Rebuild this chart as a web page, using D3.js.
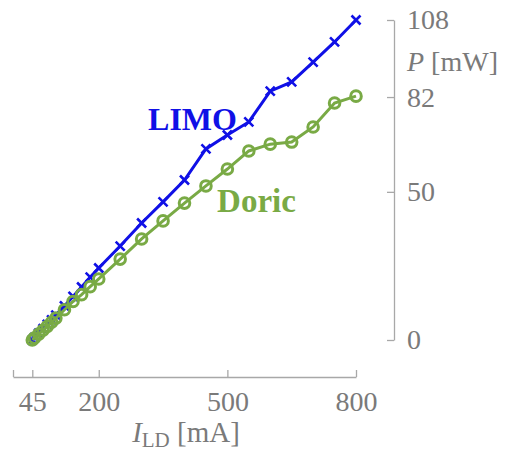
<!DOCTYPE html>
<html>
<head>
<meta charset="utf-8">
<script src="https://cdn.jsdelivr.net/npm/d3@7"></script>
<style>
  body { margin: 0; background: #fff; }
</style>
</head>
<body>
<div id="chart"></div>
<script>
// 电流 (mA)
const currents = [45, 50, 60, 70, 80, 90, 100, 120, 140, 160, 180, 200, 250, 300, 350, 400, 450, 500, 550, 600, 650, 700, 750, 800];
// 光功率 (mW)
const limo  = [0, 0.8, 2.3, 3.8, 5.3, 6.8, 8.4, 11.5, 14.7, 17.9, 21.2, 24.3, 31.7, 39.5, 46.6, 54.0, 64.5, 69.2, 73.6, 84.0, 87.1, 93.8, 100.6, 108];
const doric = [0, 0.7, 2.0, 3.3, 4.6, 6.0, 7.4, 10.2, 13.0, 15.3, 18.0, 20.6, 27.3, 34.1, 40.2, 46.2, 52.0, 57.7, 63.8, 66.1, 66.8, 71.9, 80.0, 82.3];
const xTicks = [0, 45, 200, 500, 800];
const yTicks = [0, 50, 82, 108];

const width = 510, height = 454;
const blue = "#1010e6", green = "#79aa45";
const axisColor = "#a8a8a8", textColor = "#7a7a7a";
const serif = "'Liberation Serif', 'DejaVu Serif', serif";

const x = d3.scaleLinear().domain([0, 800]).range([13, 356]);
const y = d3.scaleLinear().domain([0, 108]).range([340, 20]);

const svg = d3.select("#chart").append("svg")
    .attr("width", width)
    .attr("height", height)
    .style("font-family", serif);

// x 轴
const xAxis = svg.append("g")
    .attr("transform", "translate(0,377)")
    .call(d3.axisBottom(x).tickValues(xTicks).tickSizeInner(-7).tickSizeOuter(0).tickPadding(14)
        .tickFormat(d => d === 0 ? "" : d));

// y 轴 (右侧)
const yAxis = svg.append("g")
    .attr("transform", "translate(394,0)")
    .call(d3.axisRight(y).tickValues(yTicks).tickSizeInner(-7).tickSizeOuter(0).tickPadding(13));

[xAxis, yAxis].forEach(a => {
    a.attr("font-family", null);
    a.select(".domain").attr("stroke", axisColor).attr("stroke-width", 1.3);
    a.selectAll(".tick line").attr("stroke", axisColor).attr("stroke-width", 1.3);
    a.selectAll(".tick text").attr("fill", textColor)
        .style("font-family", serif).style("font-size", "28px");
});
xAxis.selectAll(".tick text").attr("dy", "0.71em");

// 轴标题
const xl = svg.append("text")
    .attr("x", 186).attr("y", 442)
    .attr("text-anchor", "middle")
    .attr("fill", textColor)
    .style("font-family", serif)
    .style("font-size", "29px");
xl.append("tspan").style("font-style", "italic").text("I");
xl.append("tspan").attr("dy", 5).style("font-size", "21px").text("LD");
xl.append("tspan").attr("dy", -5).text(" [mA]");

const yl = svg.append("text")
    .attr("x", 407).attr("y", 71)
    .attr("fill", textColor)
    .style("font-family", serif)
    .style("font-size", "28px");
yl.append("tspan").style("font-style", "italic").text("P");
yl.append("tspan").text(" [mW]");

// 线条
const line = d3.line()
    .x((d, i) => x(currents[i]))
    .y(d => y(d));

// LIMO 先画
svg.append("path")
    .datum(limo)
    .attr("fill", "none")
    .attr("stroke", blue)
    .attr("stroke-width", 3)
    .attr("d", line);

const s = 4.5;
svg.selectAll(".limo")
    .data(limo)
    .enter().append("path")
    .attr("class", "limo")
    .attr("transform", (d, i) => "translate(" + x(currents[i]) + "," + y(d) + ")")
    .attr("d", "M" + (-s) + "," + (-s) + "L" + s + "," + s + "M" + (-s) + "," + s + "L" + s + "," + (-s))
    .attr("stroke", blue)
    .attr("stroke-width", 2.6);

// Doric 在上层
svg.append("path")
    .datum(doric)
    .attr("fill", "none")
    .attr("stroke", green)
    .attr("stroke-width", 3)
    .attr("d", line);

svg.selectAll(".doric")
    .data(doric)
    .enter().append("circle")
    .attr("class", "doric")
    .attr("cx", (d, i) => x(currents[i]))
    .attr("cy", d => y(d))
    .attr("r", 5.3)
    .attr("fill", "none")
    .attr("stroke", green)
    .attr("stroke-width", 3);

// 标注
svg.append("text")
    .attr("x", x(315)).attr("y", y(70.9))
    .attr("fill", blue)
    .style("font-family", serif)
    .style("font-size", "32px")
    .style("font-weight", "bold")
    .text("LIMO");

svg.append("text")
    .attr("x", x(476)).attr("y", y(43.2))
    .attr("fill", green)
    .style("font-family", serif)
    .style("font-size", "33px")
    .style("font-weight", "bold")
    .text("Doric");
</script>
</body>
</html>
